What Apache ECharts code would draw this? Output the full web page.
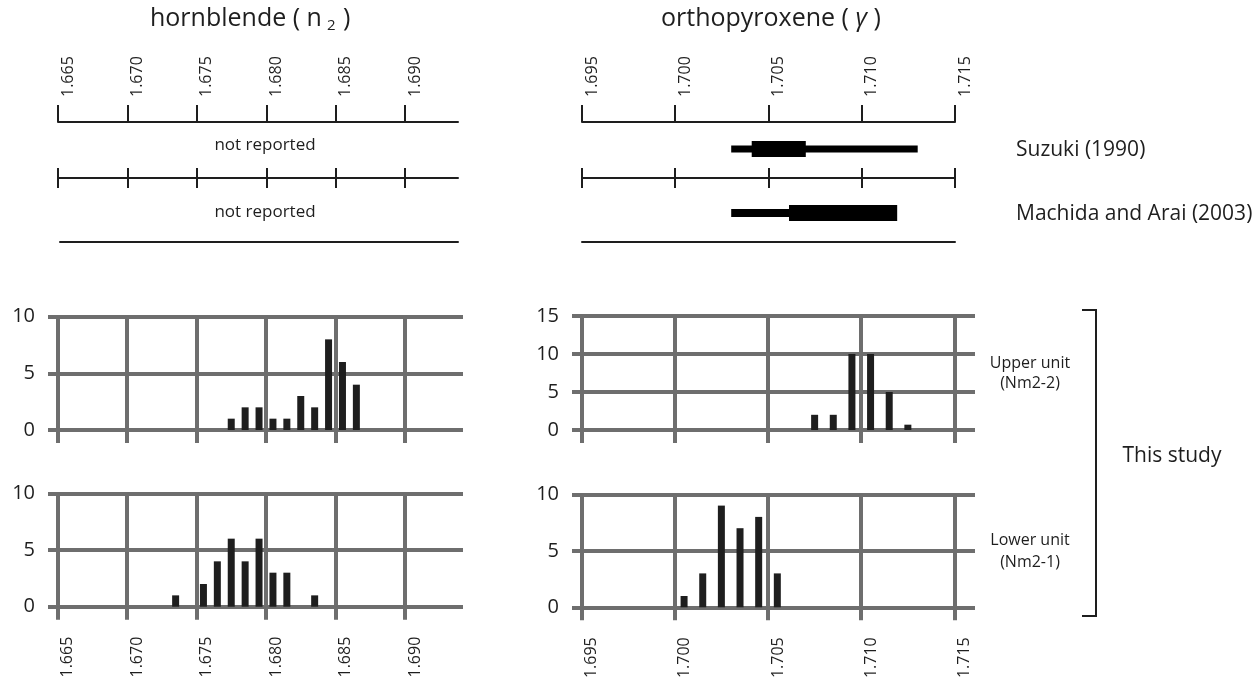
<!DOCTYPE html>
<html lang="en" style="height: 100%">
<head>
    <meta charset="utf-8">
    <title>Refractive index histograms</title>
    <script src="https://cdn.jsdelivr.net/npm/echarts@6/dist/echarts.min.js"></script>
</head>
<body style="height: 100%; margin: 0; background: #fff">
    <div id="main" style="width: 1258px; height: 682px"></div>
    <script type="text/javascript">
        // tick labels of the two refractive-index scales
        var hbTicks  = [1.665, 1.670, 1.675, 1.680, 1.685, 1.690];
        var opxTicks = [1.695, 1.700, 1.705, 1.710, 1.715];

        // hornblende n2 histograms (bin centre, count)
        var hbUpperBins   = [1.6775, 1.6785, 1.6795, 1.6805, 1.6815, 1.6825, 1.6835, 1.6845, 1.6855, 1.6865];
        var hbUpperCounts = [1, 2, 2, 1, 1, 3, 2, 8, 6, 4];
        var hbLowerBins   = [1.6735, 1.6755, 1.6765, 1.6775, 1.6785, 1.6795, 1.6805, 1.6815, 1.6835];
        var hbLowerCounts = [1, 2, 4, 6, 4, 6, 3, 3, 1];

        // orthopyroxene gamma histograms
        var opxUpperBins   = [1.7075, 1.7085, 1.7095, 1.7105, 1.7115, 1.7125];
        var opxUpperCounts = [2, 2, 10, 10, 5, 0.7];
        var opxLowerBins   = [1.7005, 1.7015, 1.7025, 1.7035, 1.7045, 1.7055];
        var opxLowerCounts = [1, 3, 9, 7, 8, 3];

        // published ranges: whole range and main range
        var suzukiRange  = [1.7030, 1.7130];
        var suzukiMain   = [1.7041, 1.7070];
        var machidaRange = [1.7030, 1.7061];
        var machidaMain  = [1.7061, 1.7119];

        var FONT = 'Open Sans';
        var INK = '#1e1e1e';
        var GRID_GRAY = '#6e6e6e';

        var myChart = echarts.init(document.getElementById('main'));

        function pairs(xs, ys) {
            return xs.map(function (x, i) { return [x, ys[i]]; });
        }
        // the empty first line nudges the rotated label to the right of its tick
        function fmt(v) { return ' \n' + v.toFixed(3); }

        // scale strip (axis line only, with optional ticks / labels)
        function stripAxis(gi, min, max, opt) {
            return {
                type: 'value', gridIndex: gi, min: min, max: max,
                position: opt.position || 'bottom',
                axisLine: { show: !opt.noLine, onZero: !!opt.onZero, lineStyle: { color: INK, width: 2 } },
                axisTick: { show: !!opt.tickLen, customValues: opt.ticks, length: opt.tickLen || 0,
                            lineStyle: { color: INK, width: 2 } },
                axisLabel: { show: !!opt.labels, customValues: opt.ticks, rotate: -90, margin: 25,
                             formatter: fmt, color: INK, fontFamily: FONT, fontSize: 16, lineHeight: 20 },
                splitLine: { show: !!opt.split, lineStyle: { color: INK, width: 2 } }
            };
        }
        function hiddenY(gi) {
            return { type: 'value', gridIndex: gi, min: -1, max: 1, show: false };
        }

        // histogram axes
        function histX(gi, min, max, ticks, labels) {
            return {
                type: 'value', gridIndex: gi, min: min, max: max,
                axisLine: { show: false },
                axisTick: { show: true, customValues: ticks, length: 13,
                            lineStyle: { color: GRID_GRAY, width: 4 } },
                axisLabel: { show: labels, customValues: ticks, rotate: 90, margin: 30,
                             formatter: fmt, color: INK, fontFamily: FONT, fontSize: 16, lineHeight: 20 },
                splitLine: { show: true, lineStyle: { color: GRID_GRAY, width: 4 } }
            };
        }
        function histY(gi, max) {
            return {
                type: 'value', gridIndex: gi, min: 0, max: max, interval: 5,
                axisLine: { show: false }, axisTick: { show: false },
                axisLabel: { color: INK, fontFamily: FONT, fontSize: 20, margin: 13 },
                splitLine: { show: true, lineStyle: { color: GRID_GRAY, width: 4 } }
            };
        }
        function bars(gi, xs, ys) {
            return {
                type: 'bar', xAxisIndex: gi, yAxisIndex: gi, barWidth: 7,
                itemStyle: { color: INK }, data: pairs(xs, ys), silent: true
            };
        }
        function range(gi, r, w) {
            return {
                type: 'line', xAxisIndex: gi, yAxisIndex: gi, symbol: 'none', silent: true,
                lineStyle: { color: '#000', width: w, cap: 'butt' },
                data: [[r[0], 0], [r[1], 0]]
            };
        }

        var hbMin = 1.665, hbStripMax = 1.6938;
        var hbHistMin = 1.66432, hbHistMax = 1.69417;
        var opxMin = 1.695, opxMax = 1.715;
        var opxHistMin = 1.69449, opxHistMax = 1.7161;

        var option = {
            backgroundColor: '#fff',
            animation: false,
            grid: [
                { left: 58, top: 122, width: 400, height: 20 },     // 0 hb top scale
                { left: 58, top: 168, width: 400, height: 20 },     // 1 hb middle scale
                { left: 60, top: 222, width: 398, height: 20 },     // 2 hb bottom line
                { left: 582, top: 122, width: 373, height: 20 },    // 3 opx top scale
                { left: 582, top: 139, width: 373, height: 20 },    // 4 Suzuki
                { left: 582, top: 168, width: 373, height: 20 },    // 5 opx middle scale
                { left: 582, top: 203, width: 373, height: 20 },    // 6 Machida
                { left: 582, top: 222, width: 373, height: 20 },    // 7 opx bottom line
                { left: 48, top: 316.7, width: 415, height: 113.3 },  // 8 hb upper unit
                { left: 48, top: 493.3, width: 415, height: 113.4 },  // 9 hb lower unit
                { left: 572, top: 316, width: 403, height: 114 },     // 10 opx upper unit
                { left: 572, top: 494.3, width: 403, height: 113 }    // 11 opx lower unit
            ],
            xAxis: [
                stripAxis(0, hbMin, hbStripMax, { position: 'top', ticks: hbTicks, tickLen: 17, labels: true }),
                stripAxis(1, hbMin, hbStripMax, { ticks: hbTicks, onZero: true, split: true }),
                stripAxis(2, hbMin, hbStripMax, { ticks: hbTicks }),
                stripAxis(3, opxMin, opxMax, { position: 'top', ticks: opxTicks, tickLen: 17, labels: true }),
                stripAxis(4, opxMin, opxMax, { ticks: opxTicks, noLine: true }),
                stripAxis(5, opxMin, opxMax, { ticks: opxTicks, onZero: true, split: true }),
                stripAxis(6, opxMin, opxMax, { ticks: opxTicks, noLine: true }),
                stripAxis(7, opxMin, opxMax, { ticks: opxTicks }),
                histX(8, hbHistMin, hbHistMax, hbTicks, false),
                histX(9, hbHistMin, hbHistMax, hbTicks, true),
                histX(10, opxHistMin, opxHistMax, opxTicks, false),
                histX(11, opxHistMin, opxHistMax, opxTicks, true)
            ],
            yAxis: [
                hiddenY(0), hiddenY(1), hiddenY(2), hiddenY(3), hiddenY(4), hiddenY(5), hiddenY(6), hiddenY(7),
                histY(8, 10), histY(9, 10), histY(10, 15), histY(11, 10)
            ],
            series: [
                range(4, suzukiRange, 7),
                range(4, suzukiMain, 16),
                range(6, machidaRange, 8),
                range(6, machidaMain, 16),
                bars(8, hbUpperBins, hbUpperCounts),
                bars(9, hbLowerBins, hbLowerCounts),
                bars(10, opxUpperBins, opxUpperCounts),
                bars(11, opxLowerBins, opxLowerCounts)
            ],
            graphic: [
                { type: 'text', left: 150, top: 6, style: {
                    text: '{a|hornblende ( n}{s|2}{a| )}', fill: INK,
                    rich: { a: { fontFamily: FONT, fontSize: 25, fill: INK },
                            s: { fontFamily: FONT, fontSize: 15, fill: INK, padding: [14, 1, 0, 5] } } } },
                { type: 'text', left: 661, top: 6, style: {
                    text: '{a|orthopyroxene ( }{g|γ}{a| )}', fill: INK,
                    rich: { a: { fontFamily: FONT, fontSize: 25, fill: INK },
                            g: { fontFamily: FONT, fontSize: 25, fontStyle: 'italic', fill: INK } } } },
                { type: 'text', x: 265, y: 145, style: { text: 'not reported', fontFamily: FONT, fontSize: 17,
                    fill: INK, align: 'center', verticalAlign: 'middle' } },
                { type: 'text', x: 265, y: 212, style: { text: 'not reported', fontFamily: FONT, fontSize: 17,
                    fill: INK, align: 'center', verticalAlign: 'middle' } },
                { type: 'text', x: 1016, y: 150, style: { text: 'Suzuki (1990)', fontFamily: FONT, fontSize: 21,
                    fill: INK, verticalAlign: 'middle' } },
                { type: 'text', x: 1016, y: 214, style: { text: 'Machida and Arai (2003)', fontFamily: FONT, fontSize: 21,
                    fill: INK, verticalAlign: 'middle' } },
                { type: 'text', x: 1030, y: 373, style: { text: 'Upper unit\n(Nm2-2)', fontFamily: FONT, fontSize: 16,
                    lineHeight: 20, fill: INK, align: 'center', verticalAlign: 'middle' } },
                { type: 'text', x: 1030, y: 551, style: { text: 'Lower unit\n(Nm2-1)', fontFamily: FONT, fontSize: 16,
                    lineHeight: 22, fill: INK, align: 'center', verticalAlign: 'middle' } },
                { type: 'polyline', shape: { points: [[1082, 310], [1096, 310], [1096, 616], [1082, 616]] },
                    style: { stroke: INK, lineWidth: 2, fill: null } },
                { type: 'text', x: 1172, y: 456, style: { text: 'This study', fontFamily: FONT, fontSize: 21,
                    fill: INK, align: 'center', verticalAlign: 'middle' } }
            ]
        };

        myChart.setOption(option);
    </script>
</body>
</html>
